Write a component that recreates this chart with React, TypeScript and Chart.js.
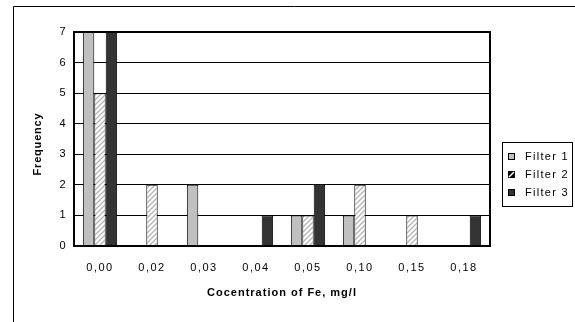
import React, { useEffect, useRef } from "react";
import { Chart, registerables } from "chart.js";

Chart.register(...registerables);

const categories = ["0,00", "0,02", "0,03", "0,04", "0,05", "0,10", "0,15", "0,18"];
const filter1 = [7, 0, 2, 0, 1, 1, 0, 0];
const filter2 = [5, 2, 0, 0, 1, 2, 1, 0];
const filter3 = [7, 0, 0, 1, 2, 0, 0, 1];
const seriesLabels = ["Filter 1", "Filter 2", "Filter 3"];
const yMin = 0;
const yMax = 7;
const yStep = 1;
const xTitle = "Cocentration of Fe, mg/l";
const yTitle = "Frequency";

const FONT = "'Liberation Sans', Arial, sans-serif";

function makeHatch(fg: string, bg: string, size = 5): CanvasPattern | string {
  const c = document.createElement("canvas");
  c.width = size;
  c.height = size;
  const g = c.getContext("2d");
  if (!g) return bg;
  g.fillStyle = bg;
  g.fillRect(0, 0, size, size);
  g.strokeStyle = fg;
  g.lineWidth = 1.3;
  g.beginPath();
  g.moveTo(-1, size + 1);
  g.lineTo(size + 1, -1);
  g.moveTo(-1, 1);
  g.lineTo(1, -1);
  g.moveTo(size - 1, size + 1);
  g.lineTo(size + 1, size - 1);
  g.stroke();
  const p = g.createPattern(c, "repeat");
  return p || bg;
}

export default function App() {
  const ref = useRef<HTMLCanvasElement | null>(null);

  useEffect(() => {
    document.body.style.margin = "0";
    const canvas = ref.current;
    if (!canvas) return;
    const hatch = makeHatch("#b4b4b4", "#ffffff", 5);
    const colors = ["#c0c0c0", hatch, "#333333"];

    const decor = {
      id: "decor",
      beforeDraw(chart: any) {
        const ctx = chart.ctx;
        ctx.save();
        ctx.fillStyle = "#ffffff";
        ctx.fillRect(0, 0, chart.width, chart.height);
        ctx.restore();
        (ctx as any).letterSpacing = "1.5px";
      },
      afterDraw(chart: any) {
        const ctx = chart.ctx as CanvasRenderingContext2D;
        const a = chart.chartArea;
        ctx.save();
        // outer frame
        ctx.strokeStyle = "#000";
        ctx.lineWidth = 1;
        ctx.beginPath();
        ctx.moveTo(13.5, chart.height);
        ctx.lineTo(13.5, 6.5);
        ctx.lineTo(chart.width, 6.5);
        ctx.stroke();
        // plot border
        ctx.lineWidth = 2;
        ctx.strokeRect(Math.round(a.left), Math.round(a.top), Math.round(a.right - a.left), Math.round(a.bottom - a.top));
        // titles
        ctx.fillStyle = "#000";
        (ctx as any).letterSpacing = "1px";
        ctx.font = `bold 11px ${FONT}`;
        ctx.textAlign = "center";
        ctx.textBaseline = "middle";
        ctx.fillText(xTitle, (a.left + a.right) / 2, 293);
        (ctx as any).letterSpacing = "0.8px";
        ctx.save();
        ctx.translate(38, (a.top + a.bottom) / 2 + 5);
        ctx.rotate(-Math.PI / 2);
        ctx.fillText(yTitle, 0, 0);
        ctx.restore();
        // legend
        const lx = 502.5, ly = 142.5, lw = 70, lh = 64;
        ctx.lineWidth = 1;
        ctx.strokeStyle = "#000";
        ctx.strokeRect(lx, ly, lw, lh);
        ctx.font = `11px ${FONT}`;
        (ctx as any).letterSpacing = "1.3px";
        ctx.textAlign = "left";
        const ds = chart.data.datasets;
        for (let i = 0; i < ds.length; i++) {
          const cy = 157 + i * 18;
          if (i === 1) {
            ctx.fillStyle = "#000";
            ctx.fillRect(508, cy - 4, 7, 7);
            ctx.strokeStyle = "#fff";
            ctx.lineWidth = 1.5;
            ctx.beginPath();
            ctx.moveTo(509, cy + 2);
            ctx.lineTo(514, cy - 3);
            ctx.stroke();
          } else {
            ctx.fillStyle = i === 0 ? "#c0c0c0" : "#333333";
            ctx.fillRect(508, cy - 4, 7, 7);
            ctx.strokeStyle = "#000";
            ctx.lineWidth = 1;
            ctx.strokeRect(508.5, cy - 3.5, 6, 6);
          }
          ctx.fillStyle = "#000";
          ctx.fillText(ds[i].label, 525, cy);
        }
        ctx.restore();
      },
    };

    const spacing = {
      id: "spacing",
      beforeLayout(chart: any) {
        (chart.ctx as any).letterSpacing = "1.5px";
      },
    };

    const chart = new Chart(canvas, {
      type: "bar",
      data: {
        labels: categories,
        datasets: [filter1, filter2, filter3].map((d, i) => ({
          label: seriesLabels[i],
          data: d,
          backgroundColor: colors[i] as any,
          borderColor: "#000",
          borderWidth: 1,
          borderSkipped: "bottom",
          categoryPercentage: 0.66,
          barPercentage: 1.0,
        })),
      },
      options: {
        responsive: false,
        animation: false,
        events: [],
        layout: { padding: { left: 0, top: 32, right: 85, bottom: 0 } },
        plugins: {
          legend: { display: false },
          title: { display: false },
          tooltip: { enabled: false },
        },
        scales: {
          x: {
            grid: { display: false, drawTicks: false },
            border: { display: false },
            ticks: {
              color: "#000",
              padding: 15,
              maxRotation: 0,
              autoSkip: false,
              font: { family: FONT, size: 11 },
            },
            afterFit(scale: any) {
              scale.height = 76;
            },
          },
          y: {
            min: yMin,
            max: yMax,
            grid: { color: "#000", lineWidth: 1, drawTicks: false },
            border: { display: false },
            ticks: {
              stepSize: yStep,
              color: "#000",
              padding: 7,
              font: { family: FONT, size: 11 },
            },
            afterFit(scale: any) {
              scale.width = 74;
            },
          },
        },
      },
      plugins: [spacing, decor],
    });
    return () => chart.destroy();
  }, []);

  return <canvas ref={ref} width={575} height={322} style={{ display: "block" }} />;
}
